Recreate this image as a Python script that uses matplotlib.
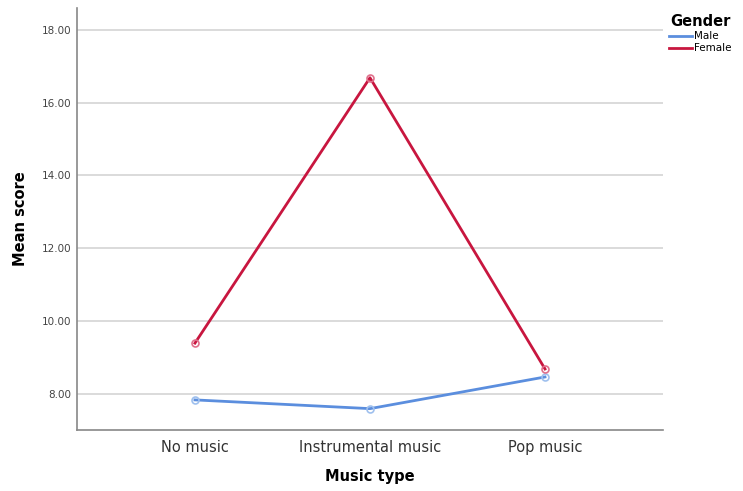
import matplotlib
matplotlib.use("Agg")
import matplotlib.pyplot as plt

categories = ["No music", "Instrumental music", "Pop music"]
male = [7.83, 7.59, 8.46]
female = [9.39, 16.68, 8.68]
yticks = [8, 10, 12, 14, 16, 18]

fig = plt.figure(figsize=(7.43, 4.91), dpi=100)
ax = fig.add_axes([0.1036, 0.124, 0.7887, 0.86])
x = list(range(len(categories)))

ax.plot(x, male, color="#5b8ede", lw=2.0, marker="o", ms=5, mfc="none", mec="#9fc0ee", mew=1.2, label="Male", zorder=3)
ax.plot(x, female, color="#c8163f", lw=2.0, marker="o", ms=5, mfc="none", mec="#e0708c", mew=1.2, label="Female", zorder=3)

ax.set_xlim(-0.674, 2.674)
ax.set_ylim(7.0, 18.6)
ax.set_xticks(x)
ax.set_xticklabels(categories, fontsize=10.5, color="#333333")
ax.set_yticks(yticks)
ax.set_yticklabels([f"{v:.2f}" for v in yticks], fontsize=7.5, color="#444444")
ax.tick_params(axis="x", length=0, pad=7)
ax.tick_params(axis="y", length=0, pad=4)
ax.grid(axis="y", color="#d4d4d4", lw=1.2)
ax.set_axisbelow(True)
for s in ["top", "right"]:
    ax.spines[s].set_visible(False)
for s in ["left", "bottom"]:
    ax.spines[s].set_color("#888888")
    ax.spines[s].set_linewidth(1.2)
ax.set_xlabel("Music type", fontsize=10.5, fontweight="bold", labelpad=10)
ax.set_ylabel("Mean score", fontsize=10.5, fontweight="bold", labelpad=10)

leg = ax.legend(title="Gender", loc="upper left", bbox_to_anchor=(1.0, 1.0), frameon=False,
                fontsize=7.5, handlelength=2.2, handletextpad=0.2, borderaxespad=0.2, labelspacing=0.2)
leg.get_title().set_fontweight("bold")
leg.get_title().set_fontsize(10.5)
for h in leg.legend_handles:
    h.set_marker("")
fig.savefig("out.png", dpi=100, facecolor="white")
